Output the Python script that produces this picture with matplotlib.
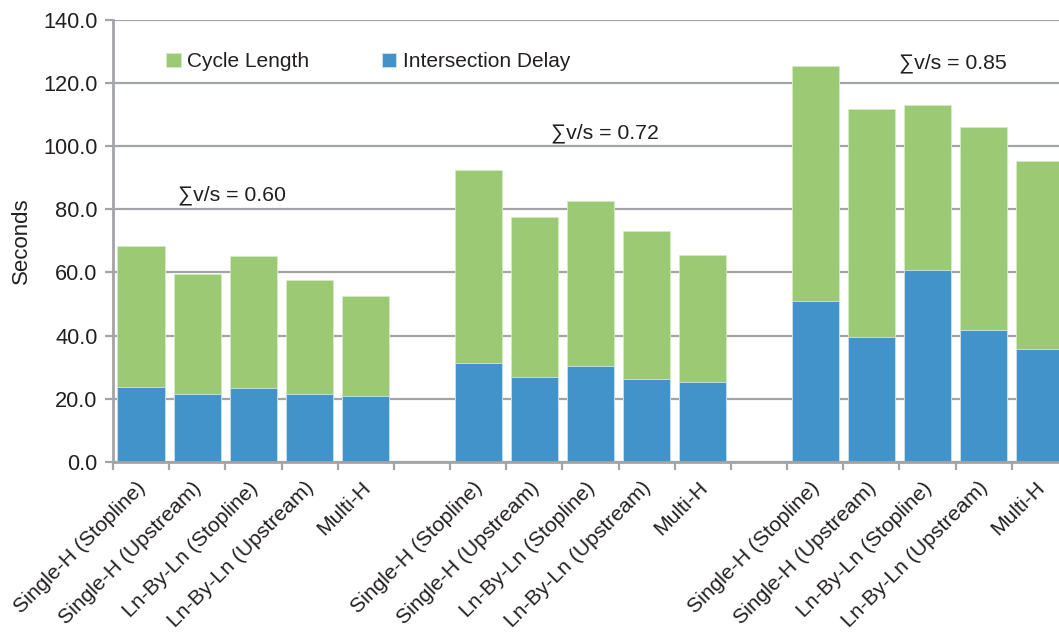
import numpy as np
import matplotlib.pyplot as plt
from matplotlib.transforms import ScaledTranslation

plt.rcParams['font.family'] = ['Liberation Sans', 'DejaVu Sans']

# three volume levels, five detection schemes each
schemes = ["Single-H (Stopline)", "Single-H (Upstream)", "Ln-By-Ln (Stopline)",
           "Ln-By-Ln (Upstream)", "Multi-H"]
vs_labels = ["\u2211v/s = 0.60", "\u2211v/s = 0.72", "\u2211v/s = 0.85"]

cycle_060 = [68.3, 59.6, 65.3, 57.5, 52.4]
cycle_072 = [92.4, 77.5, 82.5, 73.2, 65.4]
cycle_085 = [125.4, 111.9, 113.0, 106.0, 95.4]

delay_060 = [23.7, 21.5, 23.4, 21.5, 20.9]
delay_072 = [31.3, 26.9, 30.4, 26.3, 25.4]
delay_085 = [51.0, 39.6, 60.7, 41.8, 35.7]

green = '#9cc973'
blue = '#4393cb'
grid_c = '#a2a4a8'
txt = '#231f20'

# positions: 5 bars, empty slot, 5 bars, empty slot, 5 bars
x = np.concatenate([np.arange(0, 5), np.arange(6, 11), np.arange(12, 17)])
cycle = cycle_060 + cycle_072 + cycle_085
delay = delay_060 + delay_072 + delay_085

fig = plt.figure(figsize=(10.59, 6.33), dpi=100)
ax = fig.add_axes([0.1067, 0.2706, 0.9018, 0.6978])

w = 0.84
ax.bar(x, cycle, width=w, color=green, edgecolor='#d6ebc6', linewidth=0.6,
       label='Cycle Length', zorder=2)
ax.bar(x, delay, width=w, color=blue, edgecolor='#cfe3f2', linewidth=0.6,
       label='Intersection Delay', zorder=3)

ax.set_xlim(-0.5, 16.5)
ax.set_ylim(0, 140)
ax.set_yticks(np.arange(0, 141, 20))
ax.set_yticklabels([f'{v:.1f}' for v in np.arange(0, 141, 20)])
ax.yaxis.grid(True, color=grid_c, linewidth=1.6, zorder=0)
ax.set_axisbelow(True)

for s in ['top', 'right']:
    ax.spines[s].set_visible(False)
for s in ['left', 'bottom']:
    ax.spines[s].set_color(grid_c)
    ax.spines[s].set_linewidth(2)
    ax.spines[s].set_zorder(4)

ax.tick_params(axis='y', length=6, width=1.6, color=grid_c, labelsize=15.7,
               labelcolor=txt, pad=5)

# category ticks sit on slot boundaries, labels under the bars
ax.set_xticks(np.arange(-0.5, 17, 1), minor=True)
ax.tick_params(axis='x', which='minor', length=6, width=1.6, color=grid_c)
ax.set_xticks(x)
ax.set_xticklabels(schemes * 3, rotation=45, ha='right', va='top')
ax.tick_params(axis='x', which='major', length=0, labelsize=15.2,
               labelcolor=txt, pad=12)
shift = ScaledTranslation(6 / 72, 0, fig.dpi_scale_trans)
for lbl in ax.get_xticklabels():
    lbl.set_transform(lbl.get_transform() + shift)

ax.set_ylabel('Seconds', fontsize=16, color=txt, labelpad=8)

# volume-to-capacity annotations above each group
ax.text(0.66, 84.5, vs_labels[0], fontsize=15.3, color=txt, va='center')
ax.text(7.29, 104.2, vs_labels[1], fontsize=15.3, color=txt, va='center')
ax.text(13.5, 126.4, vs_labels[2], fontsize=15.3, color=txt, va='center')

ax.legend(loc='upper left', bbox_to_anchor=(0.0555, 0.927), ncol=2,
          frameon=False, fontsize=15, handlelength=0.7, handleheight=0.7,
          handletextpad=0.3, columnspacing=3.5, borderpad=0, borderaxespad=0,
          labelcolor=txt)

fig.savefig('out.png', dpi=100)
